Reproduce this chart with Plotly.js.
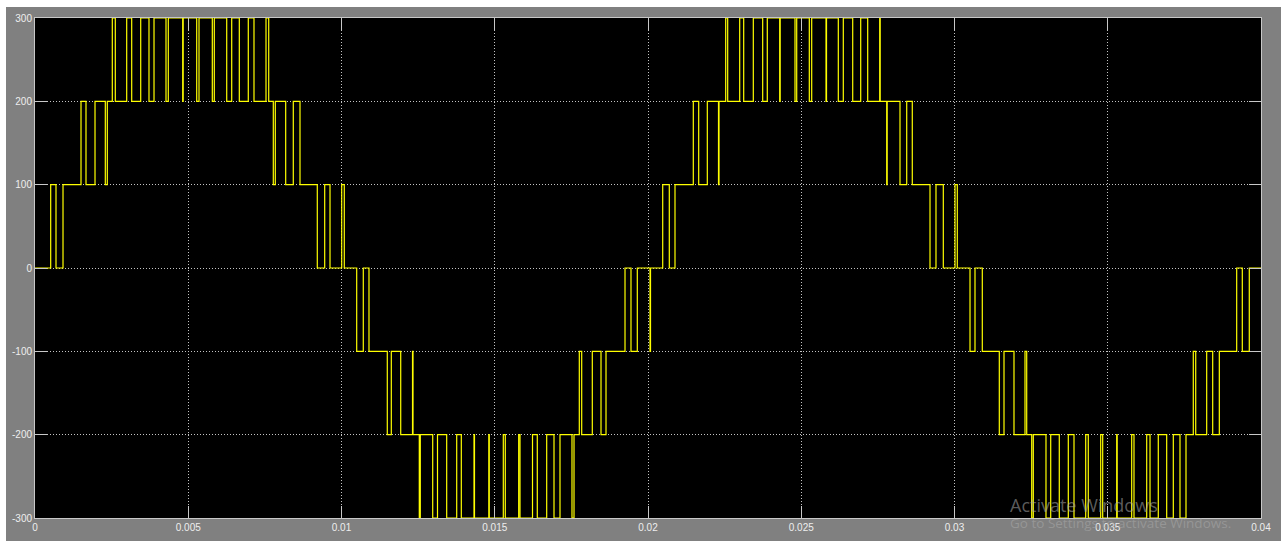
<!DOCTYPE html>
<html><head><meta charset="utf-8">
<script src="https://cdn.plot.ly/plotly-3.0.1.min.js"></script>
<style>
html,body{margin:0;padding:0;background:#ffffff;width:1281px;height:541px;overflow:hidden}
#chart{position:absolute;left:6px;top:7px;width:1275px;height:534px}
</style></head><body><div id="chart"></div>
<script>
// Switching instants (s) of the inverter output voltage and the level held from each instant
const switchTimes = [
  0, 0.000512, 0.000685, 0.000914, 0.001501, 0.001664, 0.001958, 0.002294, 0.002359, 0.002522,
  0.002620, 0.002992, 0.003155, 0.003449, 0.003719, 0.003883, 0.004274, 0.004349, 0.004819, 0.004835,
  0.005276, 0.005351, 0.005785, 0.005850, 0.006255, 0.006418, 0.006666, 0.006959, 0.007145, 0.007537,
  0.007625, 0.007775, 0.007840, 0.008179, 0.008427, 0.008646, 0.009210, 0.009452, 0.009625, 0.010007,
  0.010091, 0.010496, 0.010711, 0.010897, 0.011494, 0.011625, 0.011932, 0.012317, 0.012333, 0.012538,
  0.012571, 0.012976, 0.013132, 0.013432, 0.013759, 0.013909, 0.014323, 0.014339, 0.014806, 0.014822,
  0.015279, 0.015344, 0.015781, 0.015824, 0.016232, 0.016388, 0.016695, 0.016933, 0.017129, 0.017520,
  0.017586, 0.017759, 0.017837, 0.018183, 0.018467, 0.018630, 0.019250, 0.019445, 0.019651, 0.020065,
  0.020082, 0.020480, 0.020695, 0.020881, 0.021478, 0.021654, 0.021935, 0.022300, 0.022317, 0.022535,
  0.022600, 0.022992, 0.023122, 0.023436, 0.023742, 0.023892, 0.024297, 0.024313, 0.024796, 0.024852,
  0.025263, 0.025341, 0.025808, 0.025824, 0.026209, 0.026372, 0.026679, 0.026940, 0.027168, 0.027560,
  0.027576, 0.027788, 0.027804, 0.028222, 0.028441, 0.028623, 0.029201, 0.029396, 0.029635, 0.030016,
  0.030091, 0.030506, 0.030669, 0.030907, 0.031462, 0.031615, 0.031941, 0.032300, 0.032356, 0.032519,
  0.032571, 0.032985, 0.033139, 0.033419, 0.033713, 0.033899, 0.034281, 0.034365, 0.034770, 0.034835,
  0.035292, 0.035308, 0.035781, 0.035856, 0.036271, 0.036379, 0.036649, 0.036923, 0.037139, 0.037357,
  0.037553, 0.037791, 0.037870, 0.038228, 0.038424, 0.038640, 0.039207, 0.039390, 0.039618, 0.040
];
const voltageLevels = [
  0, 100, 0, 100, 200, 100, 200, 100, 200, 300,
  200, 300, 200, 300, 200, 300, 200, 300, 200, 300,
  200, 300, 200, 300, 200, 300, 200, 300, 200, 300,
  200, 100, 200, 100, 200, 100, 0, 100, 0, 100,
  0, -100, 0, -100, -200, -100, -200, -100, -200, -300,
  -200, -300, -200, -300, -200, -300, -200, -300, -200, -300,
  -200, -300, -200, -300, -200, -300, -200, -300, -200, -300,
  -200, -100, -200, -100, -200, -100, 0, -100, 0, -100,
  0, 100, 0, 100, 200, 100, 200, 100, 200, 300,
  200, 300, 200, 300, 200, 300, 200, 300, 200, 300,
  200, 300, 200, 300, 200, 300, 200, 300, 200, 300,
  200, 100, 200, 100, 200, 100, 0, 100, 0, 100,
  0, -100, 0, -100, -200, -100, -200, -100, -200, -300,
  -200, -300, -200, -300, -200, -300, -200, -300, -200, -300,
  -200, -300, -200, -300, -200, -300, -200, -300, -200, -300,
  -200, -100, -200, -100, -200, -100, 0, -100, 0, 0
];
const xTickVals = [0, 0.005, 0.01, 0.015, 0.02, 0.025, 0.03, 0.035, 0.04];
const xTickText = ['0', '0.005', '0.01', '0.015', '0.02', '0.025', '0.03', '0.035', '0.04'];
const yTickVals = [-300, -200, -100, 0, 100, 200, 300];
const yTickText = ['-300', '-200', '-100', '0', '100', '200', '300'];
const watermarkLines = ['Activate Windows', 'Go to Settings to activate Windows.'];

const trace = {
  type: 'scatter', mode: 'lines',
  x: switchTimes, y: voltageLevels,
  line: {shape: 'hv', color: '#ffff00', width: 1.2},
  hoverinfo: 'skip'
};

const axisCommon = {
  showgrid: true, gridcolor: '#c4c4c4', gridwidth: 1, griddash: '1px,2px',
  zeroline: false, showline: true, linecolor: '#c8c8c8', linewidth: 1,
  mirror: 'ticks', ticks: 'inside', ticklen: 12, tickwidth: 1, tickcolor: '#c8c8c8',
  tickfont: {family: 'Liberation Sans, Arial, sans-serif', size: 10, color: '#eeeeee'},
  fixedrange: true
};

const layout = {
  width: 1275, height: 534,
  paper_bgcolor: '#808080', plot_bgcolor: '#000000',
  margin: {l: 29, r: 20, t: 11, b: 23, pad: 0},
  showlegend: false,
  xaxis: Object.assign({}, axisCommon, {range: [0, 0.04], tickmode: 'array', tickvals: xTickVals, ticktext: xTickText}),
  yaxis: Object.assign({}, axisCommon, {range: [-300, 300], tickmode: 'array', tickvals: yTickVals, ticktext: yTickText}),
  annotations: [
    {xref: 'paper', yref: 'paper', x: 0.7936, y: 0.027, xanchor: 'left', yanchor: 'middle',
     text: watermarkLines[0], showarrow: false,
     font: {family: 'Open Sans, Noto Sans, sans-serif', size: 18, color: 'rgba(170,170,170,0.55)'}},
    {xref: 'paper', yref: 'paper', x: 0.7936, y: -0.009, xanchor: 'left', yanchor: 'middle',
     text: watermarkLines[1], showarrow: false,
     font: {family: 'Open Sans, Noto Sans, sans-serif', size: 13.5, color: 'rgba(170,170,170,0.55)'}}
  ]
};

Plotly.newPlot('chart', [trace], layout, {staticPlot: true, displayModeBar: false});
</script>
</body></html>
